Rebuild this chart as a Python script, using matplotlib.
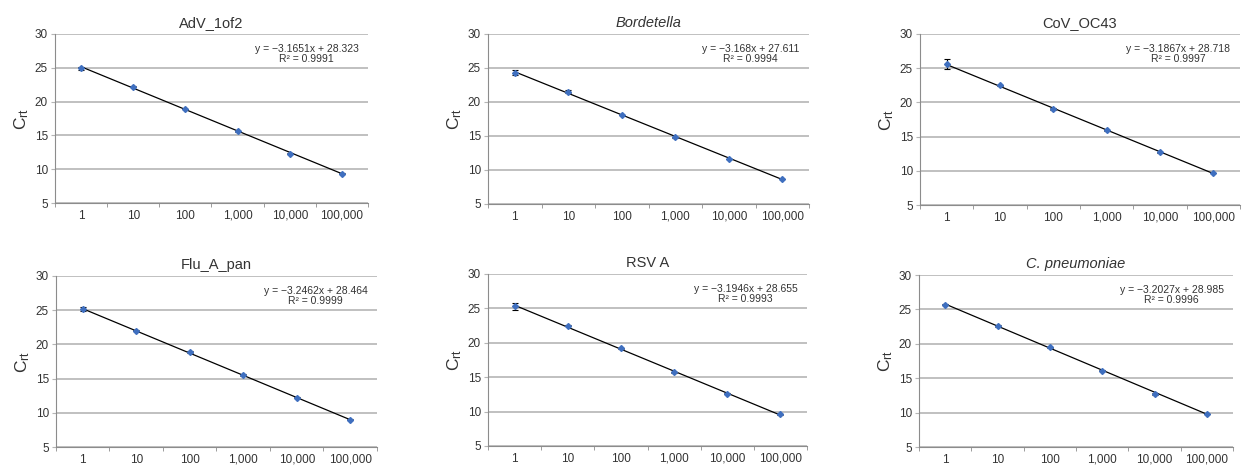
import numpy as np
import matplotlib.pyplot as plt

plt.rcParams['font.family'] = ['Liberation Sans', 'DejaVu Sans']
plt.rcParams['mathtext.default'] = 'regular'

dilutions = ['1', '10', '100', '1,000', '10,000', '100,000']

titles = ['AdV_1of2', 'Bordetella', 'CoV_OC43', 'Flu_A_pan', 'RSV A', 'C. pneumoniae']
italic = [False, True, False, False, False, True]

adv = [24.9, 22.2, 18.9, 15.6, 12.3, 9.35]
bordetella = [24.3, 21.5, 18.1, 14.8, 11.6, 8.7]
cov = [25.6, 22.5, 19.1, 15.9, 12.7, 9.7]
flu = [25.2, 22.0, 18.9, 15.5, 12.2, 9.0]
rsv = [25.3, 22.5, 19.2, 15.7, 12.6, 9.6]
cpn = [25.7, 22.6, 19.5, 16.1, 12.7, 9.8]

adv_err = [0.2, 0.1, 0.05, 0.05, 0.1, 0.05]
bordetella_err = [0.4, 0.2, 0.05, 0.1, 0.05, 0.05]
cov_err = [0.7, 0.05, 0.15, 0.05, 0.1, 0.05]
flu_err = [0.3, 0.05, 0.1, 0.1, 0.05, 0.05]
rsv_err = [0.5, 0.1, 0.05, 0.1, 0.05, 0.1]
cpn_err = [0.1, 0.1, 0.1, 0.05, 0.15, 0.05]

slopes = [-3.1651, -3.168, -3.1867, -3.2462, -3.1946, -3.2027]
intercepts = [28.323, 27.611, 28.718, 28.464, 28.655, 28.985]
r2 = ['0.9991', '0.9994', '0.9997', '0.9999', '0.9993', '0.9996']
eq_text = ['y = \u22123.1651x + 28.323', 'y = \u22123.168x + 27.611',
           'y = \u22123.1867x + 28.718', 'y = \u22123.2462x + 28.464',
           'y = \u22123.1946x + 28.655', 'y = \u22123.2027x + 28.985']

series = [adv, bordetella, cov, flu, rsv, cpn]
errors = [adv_err, bordetella_err, cov_err, flu_err, rsv_err, cpn_err]

# axes boxes in pixels: left, right, top, bottom
boxes = [(55, 368, 34, 203), (488, 809, 34, 204), (920, 1240, 34, 205),
         (56, 377, 276, 447), (488, 807, 274, 446), (919, 1233, 275, 447)]

W, H = 1244, 468
fig = plt.figure(figsize=(W / 100, H / 100), dpi=100)

grid_col = '#b5b5b5'
spine_col = '#8c8c8c'
text_col = '#333333'
for i in range(6):
    l, r, t, b = boxes[i]
    ax = fig.add_axes([l / W, 1 - b / H, (r - l) / W, (b - t) / H])
    x = np.arange(1, 7)
    ax.errorbar(x, series[i], yerr=errors[i], fmt='D', color='#3f6fbf',
                markersize=3, ecolor='black', elinewidth=0.8, capsize=2,
                capthick=0.8, zorder=3)
    xl = np.array([1, 6])
    ax.plot(xl, slopes[i] * xl + intercepts[i], color='black', lw=0.9, zorder=2)

    ax.set_xlim(0.5, 6.5)
    ax.set_ylim(5, 30)
    ax.set_yticks([5, 10, 15, 20, 25, 30])
    ax.set_xticks(x)
    ax.set_xticklabels(dilutions)
    ax.set_xticks(np.arange(0.5, 7, 1), minor=True)
    ax.tick_params(axis='x', which='major', length=0, labelsize=8.5, pad=5,
                   labelcolor=text_col)
    ax.tick_params(axis='x', which='minor', length=3, color=spine_col)
    ax.tick_params(axis='y', length=3, color=grid_col, labelsize=8.5, pad=2,
                   labelcolor=text_col)
    ax.yaxis.grid(True, color=grid_col, lw=1.2)
    ax.set_axisbelow(True)
    for s in ['top', 'right']:
        ax.spines[s].set_visible(False)
    for s in ['left', 'bottom']:
        ax.spines[s].set_color(spine_col)
        ax.spines[s].set_linewidth(0.8)

    ax.set_ylabel('$C_{rt}$', fontsize=12.5, labelpad=3, color=text_col)
    ax.set_title(titles[i], fontsize=10.5, pad=5, color=text_col,
                 style='italic' if italic[i] else 'normal')
    ax.text(0.97, 0.94, eq_text[i] + '\nR\u00b2 = ' + r2[i], transform=ax.transAxes,
            ha='right', va='top', multialignment='center', fontsize=7.5,
            linespacing=1.0, color=text_col)

fig.savefig('out.png', dpi=100)
